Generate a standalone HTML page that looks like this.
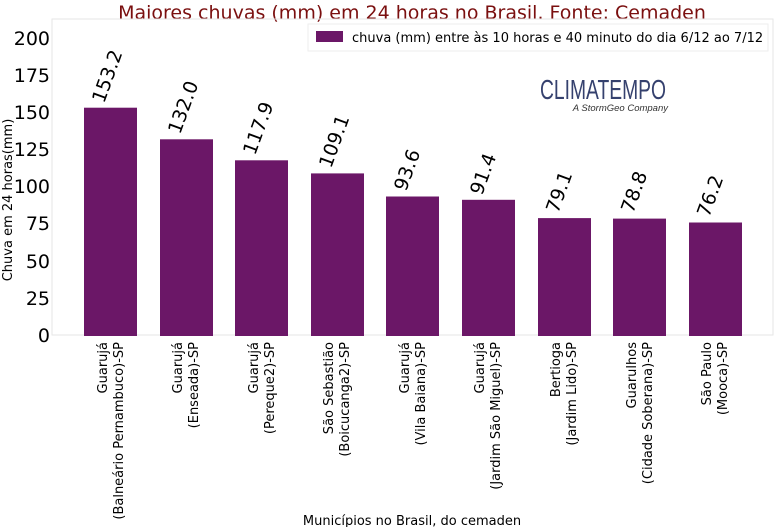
<!DOCTYPE html>
<html><head><meta charset="utf-8"><style>
body{margin:0;background:#fff}
svg{display:block;font-family:"DejaVu Sans","Liberation Sans",sans-serif}
</style></head><body>
<svg width="774" height="527" viewBox="0 0 774 527" xmlns="http://www.w3.org/2000/svg">
<rect width="774" height="527" fill="#fff"/>
<text x="412" y="19" text-anchor="middle" font-size="19" fill="#7a0f0f">Maiores chuvas (mm) em 24 horas no Brasil. Fonte: Cemaden</text>
<rect x="52" y="19" width="721" height="316" fill="none" stroke="#e6e6e6" stroke-width="1"/>
<g font-size="19" fill="#000" text-anchor="end">
<text x="50" y="342">0</text>
<text x="50" y="305">25</text>
<text x="50" y="268">50</text>
<text x="50" y="230">75</text>
<text x="50" y="193">100</text>
<text x="50" y="156">125</text>
<text x="50" y="119">150</text>
<text x="50" y="82">175</text>
<text x="50" y="45">200</text>
</g>
<text transform="translate(12,200) rotate(-90)" text-anchor="middle" font-size="13">Chuva em 24 horas(mm)</text>
<g fill="#6b1767">
<rect x="84" y="107.7" width="53" height="228.3"/>
<rect x="160" y="139.3" width="53" height="196.7"/>
<rect x="235" y="160.3" width="53" height="175.7"/>
<rect x="311" y="173.4" width="53" height="162.6"/>
<rect x="386" y="196.5" width="53" height="139.5"/>
<rect x="462" y="199.8" width="53" height="136.2"/>
<rect x="538" y="218.1" width="53" height="117.9"/>
<rect x="613" y="218.6" width="53" height="117.4"/>
<rect x="689" y="222.5" width="53" height="113.5"/>
</g>
<g font-size="19" fill="#000">
<text transform="translate(104,104) rotate(-70)">153.2</text>
<text transform="translate(180,135) rotate(-70)">132.0</text>
<text transform="translate(255,156) rotate(-70)">117.9</text>
<text transform="translate(331,169) rotate(-70)">109.1</text>
<text transform="translate(406,192) rotate(-70)">93.6</text>
<text transform="translate(482,196) rotate(-70)">91.4</text>
<text transform="translate(558,214) rotate(-70)">79.1</text>
<text transform="translate(633,214) rotate(-70)">78.8</text>
<text transform="translate(709,218) rotate(-70)">76.2</text>
</g>
<g font-size="13" fill="#000" text-anchor="end">
<text transform="translate(107,342) rotate(-90)">Guarujá</text>
<text transform="translate(123,342) rotate(-90)">(Balneário Pernambuco)-SP</text>
<text transform="translate(182,342) rotate(-90)">Guarujá</text>
<text transform="translate(198,342) rotate(-90)">(Enseada)-SP</text>
<text transform="translate(258,342) rotate(-90)">Guarujá</text>
<text transform="translate(274,342) rotate(-90)">(Pereque2)-SP</text>
<text transform="translate(333,342) rotate(-90)">São Sebastião</text>
<text transform="translate(349,342) rotate(-90)">(Boicucanga2)-SP</text>
<text transform="translate(409,342) rotate(-90)">Guarujá</text>
<text transform="translate(425,342) rotate(-90)">(Vila Baiana)-SP</text>
<text transform="translate(484,342) rotate(-90)">Guarujá</text>
<text transform="translate(500,342) rotate(-90)">(Jardim São Miguel)-SP</text>
<text transform="translate(560,342) rotate(-90)">Bertioga</text>
<text transform="translate(576,342) rotate(-90)">(Jardim Lido)-SP</text>
<text transform="translate(636,342) rotate(-90)">Guarulhos</text>
<text transform="translate(652,342) rotate(-90)">(Cidade Soberana)-SP</text>
<text transform="translate(711,342) rotate(-90)">São Paulo</text>
<text transform="translate(727,342) rotate(-90)">(Mooca)-SP</text>
</g>
<text x="412" y="525" text-anchor="middle" font-size="13">Municípios no Brasil, do cemaden</text>
<rect x="308" y="24" width="460" height="27" fill="#fff" stroke="#eee"/>
<rect x="316" y="31" width="27" height="11" fill="#6b1767"/>
<text x="352" y="42" font-size="13">chuva (mm) entre às 10 horas e 40 minuto do dia 6/12 ao 7/12</text>
<text x="540" y="99" font-family="'Liberation Sans Narrow','Liberation Sans',sans-serif" font-size="28" fill="#35416e" textLength="126" lengthAdjust="spacingAndGlyphs">CLIMATEMPO</text>
<text x="668" y="111" text-anchor="end" font-family="'Liberation Sans',sans-serif" font-style="italic" font-size="9.5" fill="#333">A StormGeo Company</text>
</svg>
</body></html>
